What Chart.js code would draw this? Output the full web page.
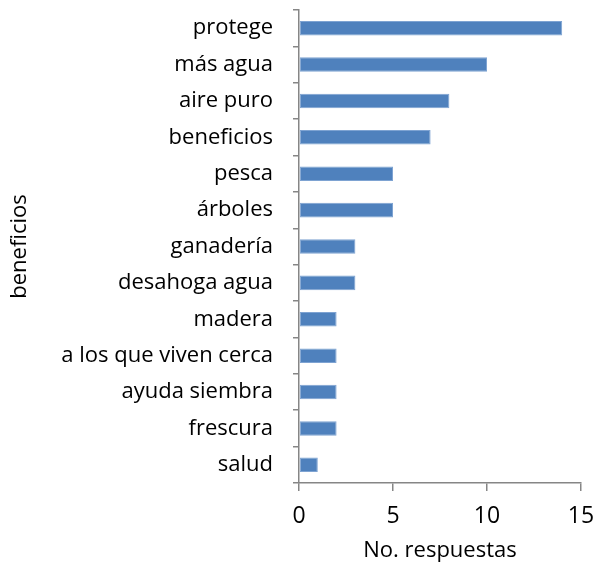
<!DOCTYPE html>
<html>
<head>
<meta charset="utf-8">
<script src="https://cdn.jsdelivr.net/npm/chart.js@4"></script>
<style>
  html, body { margin: 0; padding: 0; background: #fff; }
  #wrap { width: 595px; height: 573px; }
</style>
</head>
<body>
<div id="wrap"><canvas id="chart" width="595" height="573"></canvas></div>
<script>
// datos
const categorias = ['protege', 'más agua', 'aire puro', 'beneficios', 'pesca', 'árboles',
    'ganadería', 'desahoga agua', 'madera', 'a los que viven cerca', 'ayuda siembra',
    'frescura', 'salud'];
const respuestas = [14, 10, 8, 7, 5, 5, 3, 3, 2, 2, 2, 2, 1];
const ticksX = [0, 5, 10, 15];

const fuente = '"Open Sans", "Liberation Sans", sans-serif';
const gris = '#868686';

// quita el relleno automatico que Chart.js agrega por las etiquetas
function sinRelleno(scale) {
    scale.paddingTop = 0;
    scale.paddingBottom = 0;
    scale.paddingLeft = 0;
    scale.paddingRight = 0;
}

const ctx = document.getElementById('chart').getContext('2d');
const chart = new Chart(ctx, {
    type: 'bar',
    data: {
        labels: categorias,
        datasets: [{
            label: 'No. respuestas',
            data: respuestas,
            backgroundColor: '#4f81bd',
            borderColor: '#7ea3d2',
            borderWidth: 1,
            borderSkipped: false,
            categoryPercentage: 0.4,
            barPercentage: 1
        }]
    },
    options: {
        indexAxis: 'y',
        responsive: false,
        animation: false,
        layout: { padding: { top: 10, right: 14, left: 0, bottom: 0 } },
        plugins: {
            legend: { display: false },
            tooltip: { enabled: false }
        },
        scales: {
            x: {
                min: ticksX[0],
                max: ticksX[ticksX.length - 1],
                afterBuildTicks: function(scale) {
                    scale.ticks = ticksX.map(v => ({ value: v }));
                },
                afterFit: function(scale) { scale.height = 90; sinRelleno(scale); },
                grid: { drawOnChartArea: false, drawTicks: true, tickLength: 8, color: gris, lineWidth: 1.5 },
                border: { color: gris, width: 1.5 },
                ticks: { color: '#000', font: { family: fuente, size: 23 }, padding: 12 },
                title: { display: true, text: 'No. respuestas', color: '#000', font: { family: fuente, size: 22 }, padding: { top: 0, bottom: 9 } }
            },
            y: {
                afterFit: function(scale) { scale.width = 299; sinRelleno(scale); },
                grid: { drawOnChartArea: false, drawTicks: true, tickLength: 6, color: gris, lineWidth: 1.5 },
                border: { color: gris, width: 1.5 },
                ticks: { color: '#000', font: { family: fuente, size: 22 }, padding: 20, autoSkip: false },
                title: { display: true, text: 'beneficios', color: '#000', font: { family: fuente, size: 22 }, padding: { top: 7, bottom: 0 } }
            }
        }
    }
});
</script>
</body>
</html>
